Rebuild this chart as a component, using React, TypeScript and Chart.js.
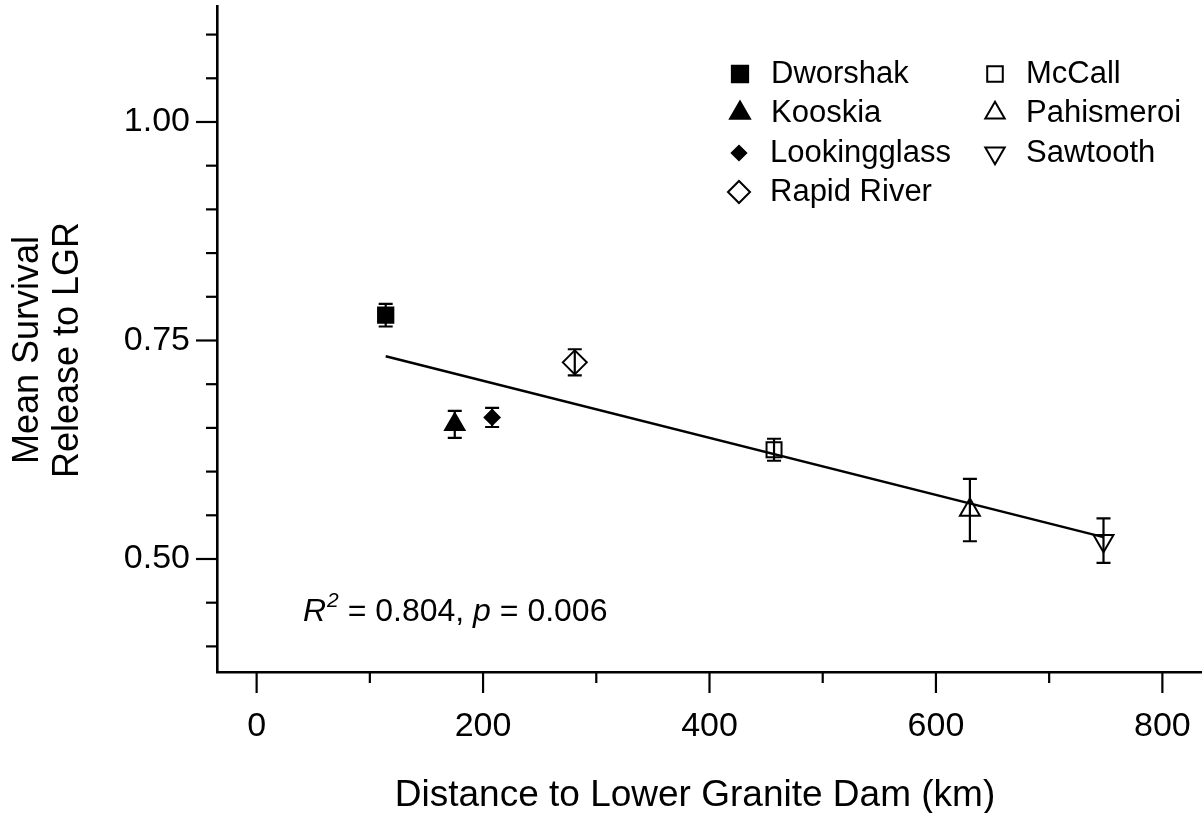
import React, { useEffect, useRef } from 'react';
import { Chart, registerables } from 'chart.js';
import { drawPoint } from 'chart.js/helpers';

Chart.register(...registerables);

const sites = ['Dworshak', 'Kooskia', 'Lookingglass', 'Rapid River', 'McCall', 'Pahismeroi', 'Sawtooth'];
const distanceKm = [114, 175, 208, 281, 457, 630, 748];
const meanSurvival = [0.779, 0.654, 0.662, 0.725, 0.625, 0.556, 0.521];
const stdError = [0.013, 0.0155, 0.011, 0.015, 0.0126, 0.0357, 0.0254];
const fitX = [114, 748];
const fitY = [0.732, 0.525];
const xTicks = [0, 100, 200, 300, 400, 500, 600, 700, 800];
const xTickLabels = ['0', '', '200', '', '400', '', '600', '', '800'];
const yTicks = [0.4, 0.45, 0.5, 0.55, 0.6, 0.65, 0.7, 0.75, 0.8, 0.85, 0.9, 0.95, 1.0, 1.05, 1.1];
const yTickLabels = ['', '', '0.50', '', '', '', '', '0.75', '', '', '', '', '1.00', '', ''];
const xTitle = 'Distance to Lower Granite Dam (km)';
const yTitleLines = ['Mean Survival', 'Release to LGR'];

const FONT = '"Liberation Sans", Arial, sans-serif';

// marker styles per site (same order as sites)
const markerStyles = [
  { pointStyle: 'rect', radius: 10.8, filled: true, rotation: 0, legendRadius: 11.5 },
  { pointStyle: 'triangle', radius: 11.2, filled: true, rotation: 0, legendRadius: 11.5 },
  { pointStyle: 'rectRot', radius: 7.5, filled: true, rotation: 0, legendRadius: 7.2 },
  { pointStyle: 'rectRot', radius: 12, filled: false, rotation: 0, legendRadius: 11 },
  { pointStyle: 'rect', radius: 10.6, filled: false, rotation: 0, legendRadius: 11 },
  { pointStyle: 'triangle', radius: 11.5, filled: false, rotation: 0, legendRadius: 11.2 },
  { pointStyle: 'triangle', radius: 11.5, filled: false, rotation: 180, legendRadius: 11.2 },
];

const legendLayout = [
  { x: 740, y: 74 },
  { x: 740, y: 113 },
  { x: 739, y: 153 },
  { x: 739, y: 192 },
  { x: 995, y: 74 },
  { x: 995, y: 113 },
  { x: 995, y: 153 },
];

const zeroPad = (s: any) => {
  s.paddingTop = 0;
  s.paddingBottom = 0;
  s.paddingLeft = 0;
  s.paddingRight = 0;
};

const customPlugin = {
  id: 'custom',
  afterDatasetsDraw(chart: any) {
    const { ctx, scales } = chart;
    const x = scales.x;
    const y = scales.y;
    ctx.save();
    ctx.strokeStyle = '#000';
    ctx.lineWidth = 2.2;
    distanceKm.forEach((d, i) => {
      const px = x.getPixelForValue(d);
      const top = y.getPixelForValue(meanSurvival[i] + stdError[i]);
      const bot = y.getPixelForValue(meanSurvival[i] - stdError[i]);
      const cap = 7;
      ctx.beginPath();
      ctx.moveTo(px, top);
      ctx.lineTo(px, bot);
      ctx.moveTo(px - cap, top);
      ctx.lineTo(px + cap, top);
      ctx.moveTo(px - cap, bot);
      ctx.lineTo(px + cap, bot);
      ctx.stroke();
    });
    ctx.restore();
  },
  afterDraw(chart: any) {
    const { ctx, scales, chartArea } = chart;
    const x = scales.x;
    const y = scales.y;
    ctx.save();
    ctx.strokeStyle = '#000';
    ctx.lineWidth = 2.2;
    xTicks.forEach((v, i) => {
      const px = x.getPixelForValue(v);
      const len = xTickLabels[i] ? 21 : 11;
      ctx.beginPath();
      ctx.moveTo(px, chartArea.bottom);
      ctx.lineTo(px, chartArea.bottom + len);
      ctx.stroke();
    });
    yTicks.forEach((v, i) => {
      const py = y.getPixelForValue(v);
      const len = yTickLabels[i] ? 21 : 11;
      ctx.beginPath();
      ctx.moveTo(chartArea.left, py);
      ctx.lineTo(chartArea.left - len, py);
      ctx.stroke();
    });

    ctx.fillStyle = '#000';
    // x axis title
    ctx.font = `37px ${FONT}`;
    ctx.textAlign = 'center';
    ctx.textBaseline = 'middle';
    ctx.fillText(xTitle, 695, 796);

    // y axis title (two lines, rotated)
    ctx.font = `36px ${FONT}`;
    const cy = 350;
    const lineX = [28, 68];
    yTitleLines.forEach((t, i) => {
      ctx.save();
      ctx.translate(lineX[i], cy);
      ctx.rotate(-Math.PI / 2);
      ctx.fillText(t, 0, 0);
      ctx.restore();
    });

    // legend
    ctx.font = `31px ${FONT}`;
    ctx.textAlign = 'left';
    ctx.textBaseline = 'middle';
    sites.forEach((s, i) => {
      const st = markerStyles[i];
      const pos = legendLayout[i];
      ctx.save();
      ctx.strokeStyle = '#000';
      ctx.fillStyle = st.filled ? '#000' : 'rgba(0,0,0,0)';
      ctx.lineWidth = 2;
      drawPoint(ctx, { pointStyle: st.pointStyle, radius: st.legendRadius, rotation: st.rotation, borderWidth: 2 }, pos.x, pos.y);
      ctx.restore();
      ctx.fillStyle = '#000';
      ctx.fillText(s, pos.x + 31, pos.y);
    });

    // annotation R^2 = 0.804, p = 0.006
    let tx = 303;
    const base = 621;
    ctx.textBaseline = 'alphabetic';
    ctx.font = `italic 32px ${FONT}`;
    ctx.fillText('R', tx, base);
    tx += ctx.measureText('R').width + 1;
    ctx.font = `italic 21px ${FONT}`;
    ctx.fillText('2', tx, base - 14);
    tx += ctx.measureText('2').width;
    ctx.font = `32px ${FONT}`;
    ctx.fillText(' = 0.804, ', tx, base);
    tx += ctx.measureText(' = 0.804, ').width;
    ctx.font = `italic 32px ${FONT}`;
    ctx.fillText('p', tx, base);
    tx += ctx.measureText('p').width;
    ctx.font = `32px ${FONT}`;
    ctx.fillText(' = 0.006', tx, base);
    ctx.restore();
  },
};

export default function App() {
  const ref = useRef<HTMLCanvasElement>(null);
  useEffect(() => {
    document.body.style.margin = '0';
    const canvas = ref.current;
    if (!canvas) return;
    const siteDatasets = sites.map((s, i) => {
      const st = markerStyles[i];
      return {
        label: s,
        data: [{ x: distanceKm[i], y: meanSurvival[i] }],
        pointStyle: st.pointStyle,
        pointRadius: st.radius,
        pointRotation: st.rotation,
        pointBackgroundColor: st.filled ? '#000' : 'rgba(0,0,0,0)',
        pointBorderColor: '#000',
        pointBorderWidth: 2,
        showLine: false,
        order: 1,
      };
    });
    const fitDataset = {
      label: 'fit',
      data: fitX.map((x, i) => ({ x, y: fitY[i] })),
      showLine: true,
      borderColor: '#000',
      borderWidth: 2.4,
      pointRadius: 0,
      fill: false,
      order: 2,
    };
    const chart = new Chart(canvas, {
      type: 'scatter',
      data: { datasets: [fitDataset as any, ...(siteDatasets as any)] },
      options: {
        animation: false,
        responsive: false,
        maintainAspectRatio: false,
        layout: { autoPadding: false, padding: { top: 6, right: 0, left: 0, bottom: 0 } },
        plugins: { legend: { display: false }, tooltip: { enabled: false } },
        scales: {
          x: {
            type: 'linear',
            min: -35,
            max: 835,
            afterBuildTicks: (s: any) => {
              s.ticks = xTicks.map((v) => ({ value: v }));
            },
            afterFit: (s: any) => {
              s.height = 141;
              zeroPad(s);
            },
            ticks: {
              autoSkip: false,
              maxRotation: 0,
              color: '#000',
              font: { family: FONT, size: 34 },
              padding: 13,
              callback: (_v: any, i: number) => xTickLabels[i],
            },
            grid: { display: true, drawOnChartArea: false, drawTicks: true, tickLength: 21, color: 'rgba(0,0,0,0)' },
            border: { display: true, color: '#000', width: 2.6 },
          },
          y: {
            type: 'linear',
            min: 0.3707,
            max: 1.1327,
            afterBuildTicks: (s: any) => {
              s.ticks = yTicks.map((v) => ({ value: v }));
            },
            afterFit: (s: any) => {
              s.width = 217;
              zeroPad(s);
            },
            ticks: {
              autoSkip: false,
              color: '#000',
              font: { family: FONT, size: 34 },
              padding: 6,
              callback: (_v: any, i: number) => yTickLabels[i],
            },
            grid: { display: true, drawOnChartArea: false, drawTicks: true, tickLength: 21, color: 'rgba(0,0,0,0)' },
            border: { display: true, color: '#000', width: 2.6 },
          },
        },
      },
      plugins: [customPlugin],
    });
    return () => chart.destroy();
  }, []);
  return <canvas ref={ref} width={1202} height={813} style={{ display: 'block' }} />;
}
